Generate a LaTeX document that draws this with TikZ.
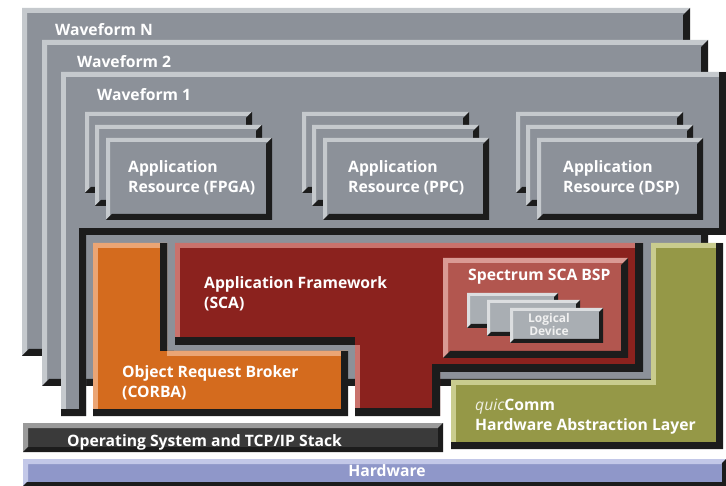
\documentclass[tikz,border=0pt]{standalone}
\usepackage{fontspec}
\setmainfont{Open Sans}
\definecolor{wgray}{HTML}{8C9199}
\definecolor{wlight}{HTML}{C5C9CD}
\definecolor{wdark}{HTML}{1C1C1C}
\definecolor{orbody}{HTML}{D46B1E}
\definecolor{orlight}{HTML}{EBA574}
\definecolor{redbody}{HTML}{8B221E}
\definecolor{redlight}{HTML}{C9726C}
\definecolor{specbody}{HTML}{B2564F}
\definecolor{speclight}{HTML}{DA9A94}
\definecolor{grbody}{HTML}{959847}
\definecolor{grlight}{HTML}{C9CC8E}
\definecolor{osbody}{HTML}{3A3A3A}
\definecolor{oslight}{HTML}{9A9A9A}
\definecolor{hwbody}{HTML}{8F97C9}
\definecolor{hwlight}{HTML}{C3C8E8}
\definecolor{ldbody}{HTML}{A9AEB3}
\definecolor{ldlight}{HTML}{DCDEE0}
% #1 x1, #2 y1, #3 x2, #4 y2, #5 body, #6 light, #7 dark, #8 light width, #9 dark width
\newcommand{\bvbox}[9]{%
  \fill[#5] (#1,#2) rectangle (#3,#4);
  \fill[#6] (#1,#2) -- (#3,#2) -- (#3-#8,#2+#8) -- (#1+#8,#2+#8) -- (#1+#8,#4-#8) -- (#1,#4) -- cycle;
  \fill[#7] (#3,#2) -- (#3,#4) -- (#1,#4) -- (#1+#9,#4-#9) -- (#3-#9,#4-#9) -- (#3-#9,#2+#9) -- cycle;
}
\newcommand{\resgroup}[1]{%
  \bvbox{85+#1}{112}{252+#1}{193}{wgray}{wlight}{wdark}{4}{6}
  \bvbox{95+#1}{125}{262+#1}{206}{wgray}{wlight}{wdark}{4}{6}
  \bvbox{106+#1}{138}{272+#1}{220}{wgray}{wlight}{wdark}{4}{6}
}
\tikzset{
  lbl/.style={anchor=west, inner sep=0pt, text=white, align=left,
    font=\fontsize{15.7}{20}\selectfont\bfseries},
}
\begin{document}
\begin{tikzpicture}[x=1pt,y=-1pt]
\useasboundingbox (0,0) rectangle (726,486);
\fill[white] (0,0) rectangle (726,486);

% Waveforms
\bvbox{22}{8}{690}{356}{wgray}{wlight}{wdark}{5}{7}
\bvbox{42}{40}{708}{386}{wgray}{wlight}{wdark}{5}{7}
\begin{scope}
  \clip (61,72) -- (726,72) -- (726,235) -- (86,235) -- (86,416) -- (61,416) -- cycle;
  \fill[wgray] (61,72) rectangle (726,416);
  \draw[wlight, line width=10pt] (61,416) -- (61,72) -- (726,72);
  \draw[wdark, line width=14pt] (726,72) -- (726,235) -- (86,235) -- (86,416) -- (61,416);
\end{scope}

% Application resources
\resgroup{0}
\resgroup{217}
\resgroup{431}

% Orange ORB
\begin{scope}
  \clip (93,243) -- (167,243) -- (167,351) -- (348,351) -- (348,416) -- (93,416) -- cycle;
  \fill[orbody] (93,243) rectangle (348,416);
  \draw[orlight, line width=10pt] (93,416) -- (93,243) -- (167,243) (167,351) -- (348,351);
  \draw[wdark, line width=14pt] (167,243) -- (167,351) (348,351) -- (348,416) -- (93,416);
\end{scope}

% Red application framework
\begin{scope}
  \clip (175,243) -- (643,243) -- (643,372) -- (440,372) -- (440,416) -- (355,416) -- (355,345) -- (175,345) -- cycle;
  \fill[redbody] (175,243) rectangle (643,416);
  \draw[redlight, line width=10pt] (175,345) -- (175,243) -- (643,243) (355,416) -- (355,345);
  \draw[wdark, line width=16pt] (643,243) -- (643,372) -- (440,372) -- (440,416) -- (355,416) (355,345) -- (175,345);
\end{scope}

% Spectrum SCA BSP
\bvbox{443}{258}{628}{358}{specbody}{speclight}{wdark}{5}{7}
% Logical devices
\bvbox{467}{293}{558}{328}{ldbody}{ldlight}{wdark}{3}{4}
\bvbox{487}{300}{580}{336}{ldbody}{ldlight}{wdark}{3}{4}
\bvbox{510}{308}{603}{343}{ldbody}{ldlight}{wdark}{3}{4}

% Green HAL
\begin{scope}
  \clip (451,380) -- (651,380) -- (651,243) -- (723,243) -- (723,449) -- (451,449) -- cycle;
  \fill[grbody] (451,243) rectangle (723,449);
  \draw[grlight, line width=10pt] (451,449) -- (451,380) -- (651,380) -- (651,243) -- (723,243);
  \draw[wdark, line width=14pt] (723,243) -- (723,449) -- (451,449);
\end{scope}

% OS bar and hardware
\bvbox{23}{423}{443}{452}{osbody}{oslight}{wdark}{5}{5}
\bvbox{23}{459}{726}{486}{hwbody}{hwlight}{wdark}{5}{4}

% Labels
\node[lbl] (wN) at (55,30) {Waveform N};
\node[lbl] (w2) at (77,62) {Waveform 2};
\node[lbl] (w1) at (97,95) {Waveform 1};
\node[lbl] (fpga) at (128,178) {Application\\Resource (FPGA)};
\node[lbl] (ppc) at (348,178) {Application\\Resource (PPC)};
\node[lbl] (dsp) at (563,178) {Application\\Resource (DSP)};
\node[lbl] (af) at (204,294) {Application Framework\\(SCA)};
\node[lbl] (bsp) at (468,277) {Spectrum SCA BSP};
\node[anchor=center, inner sep=0pt, text=white!88!gray, align=center,
  font=\fontsize{12}{13}\selectfont\bfseries] (ld) at (549,325) {Logical\\Device};
\node[lbl] (orb) at (122,383) {Object Request Broker\\(CORBA)};
\node[lbl] (hal) at (475,417) {{\mdseries\itshape\color{white!85!grbody}quic}Comm\\Hardware Abstraction Layer};
\node[lbl] (os) at (67,442) {Operating System and TCP/IP Stack};
\node[lbl, anchor=center] (hw) at (387,471) {Hardware};
\end{tikzpicture}
\end{document}
